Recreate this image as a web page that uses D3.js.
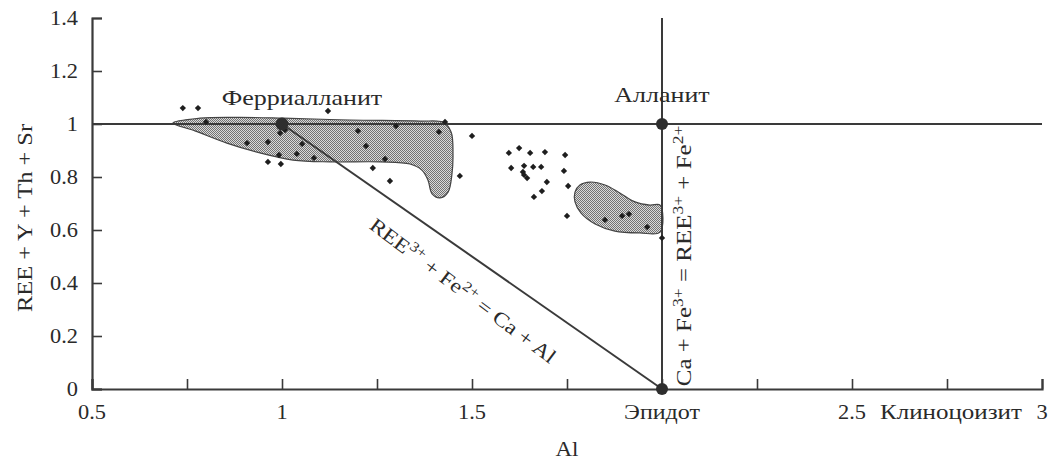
<!DOCTYPE html>
<html><head><meta charset="utf-8">
<script src="https://cdn.jsdelivr.net/npm/d3@7"></script>
<style>body{margin:0;background:#fff}svg{display:block}text{font-family:"Liberation Serif","Times New Roman",serif;fill:#2a2a2a}</style>
</head><body><svg id="c" width="1054" height="465"></svg>
<script>
// ---- data ----
const xTicks = [0.5,0.75,1,1.25,1.5,1.75,2,2.25,2.5,2.75,3];
const xLabelValues = [0.5,1,1.5,2,2.5,3];
const xLabelTexts = ["0.5","1","1.5","Эпидот","2.5","3"];
const extraXLabel = {x:2.75, text:"Клиноцоизит"};
const yTicks = [0,0.2,0.4,0.6,0.8,1,1.2,1.4];
const yTickLabels = ["0","0.2","0.4","0.6","0.8","1","1.2","1.4"];
const endMembers = [
  {name:"Ферриалланит", x:1, y:1},
  {name:"Алланит", x:2, y:1},
  {name:"Эпидот", x:2, y:0}
];
const regionA = [[0.713,1.004],[0.784,1.022],[0.889,1.025],[1.003,1.022],[1.179,1.015],[1.363,1.011],[1.424,1.006],[1.445,0.97],[1.45,0.883],[1.447,0.808],[1.437,0.743],[1.416,0.721],[1.395,0.736],[1.384,0.789],[1.368,0.826],[1.337,0.849],[1.258,0.857],[1.126,0.857],[1.029,0.864],[0.942,0.891],[0.855,0.928],[0.771,0.974]];
const regionB = [[1.771,0.743],[1.784,0.77],[1.811,0.781],[1.85,0.77],[1.889,0.74],[1.929,0.706],[1.968,0.694],[1.995,0.694],[1.995,0.592],[1.942,0.589],[1.876,0.596],[1.824,0.623],[1.787,0.664],[1.771,0.706]];
const pointsX = [0.739,0.779,0.800,1.121,1.429,1.300,1.200,1.413,1.500,0.995,1.008,0.908,0.963,1.053,1.221,0.992,1.039,1.084,1.271,0.963,0.997,1.239,1.468,1.284,
  1.597,1.624,1.653,1.692,1.745,1.603,1.637,1.661,1.682,1.742,1.634,1.637,1.645,1.697,1.753,1.684,1.663,1.750,1.850,1.895,1.913,1.961,2.000];
const pointsY = [1.060,1.060,1.008,1.049,1.008,0.992,0.974,0.970,0.955,0.966,0.977,0.928,0.932,0.925,0.917,0.883,0.887,0.872,0.868,0.857,0.849,0.834,0.804,0.785,
  0.891,0.909,0.891,0.894,0.883,0.834,0.842,0.838,0.838,0.823,0.819,0.808,0.796,0.781,0.766,0.747,0.725,0.653,0.638,0.653,0.660,0.611,0.570];

// ---- chart ----
const svg = d3.select("#c");
const x = d3.scaleLinear().domain([0.5,3]).range([92,1042]);
const y = d3.scaleLinear().domain([0,1.4]).range([389,18]);
const ink = "#3a3a3a";

// text helper: horizontally widened serif text (the source uses a wide Times-like face)
function label(px, py, parts, o={}){
  const fs=o.fs||20, sx=o.sx||1.25, rot=o.rot||0, anchor=o.anchor||"middle";
  const g = svg.append("g").attr("transform",`translate(${px},${py}) rotate(${rot}) scale(${sx},1)`);
  const t = g.append("text").attr("text-anchor",anchor).attr("font-size",fs);
  if(typeof parts==="string"){ t.text(parts); return t; }
  parts.forEach(p=>{
    if(p[1]) t.append("tspan").attr("dy",-0.4*fs).attr("font-size",fs*0.7).text(p[0]);
    else t.append("tspan").attr("dy",p[2]?0.4*fs:0).text(p[0]);
  });
  return t;
}

const defs = svg.append("defs");
const pat = defs.append("pattern").attr("id","stip").attr("width",2).attr("height",2).attr("patternUnits","userSpaceOnUse");
pat.append("rect").attr("width",2).attr("height",2).attr("fill","#dadada");
pat.append("rect").attr("width",1).attr("height",1).attr("fill","#737373");
pat.append("rect").attr("x",1).attr("y",1).attr("width",1).attr("height",1).attr("fill","#737373");

const area = d3.line().x(d=>x(d[0])).y(d=>y(d[1])).curve(d3.curveCatmullRomClosed.alpha(0.5));
[regionA, regionB].forEach(r=>{
  svg.append("path").attr("d",area(r)).attr("fill","url(#stip)").attr("stroke","#444").attr("stroke-width",1.2);
});

// reference lines
svg.append("line").attr("x1",x(0.5)).attr("x2",x(3)).attr("y1",y(1)).attr("y2",y(1)).attr("stroke",ink).attr("stroke-width",2);
svg.append("line").attr("x1",x(2)).attr("x2",x(2)).attr("y1",y(0)).attr("y2",y(1.4)).attr("stroke",ink).attr("stroke-width",2);
svg.append("line").attr("x1",x(1)).attr("x2",x(2)).attr("y1",y(1)).attr("y2",y(0)).attr("stroke",ink).attr("stroke-width",2);

// axes (ticks only; labels drawn below)
const gx = svg.append("g").attr("transform",`translate(0,${y(0)})`)
  .call(d3.axisBottom(x).tickValues(xTicks).tickSize(-10).tickFormat(""));
const gy = svg.append("g").attr("transform",`translate(${x(0.5)},0)`)
  .call(d3.axisLeft(y).tickValues(yTicks).tickSize(-10).tickFormat(""));
[gx,gy].forEach(g=>{
  g.selectAll("path.domain").attr("stroke",ink).attr("stroke-width",2.2);
  g.selectAll(".tick line").attr("stroke",ink).attr("stroke-width",1.6);
});

// tick labels
xLabelValues.forEach((v,i)=>label(x(v), 419, xLabelTexts[i], {sx: i===3?1.2:1.12}));
label(x(extraXLabel.x)+4, 419, extraXLabel.text, {sx:1.25});
yTicks.forEach((v,i)=>label(78, y(v)+7, yTickLabels[i], {anchor:"end", sx:1.12}));

// axis titles
label(x(1.75), 456, "Al", {sx:1.15});
label(32, 218, "REE + Y + Th + Sr", {rot:-90, sx:1.22});

// scatter points
const pts = pointsX.map((v,i)=>[v,pointsY[i]]);
svg.append("g").selectAll("path").data(pts).join("path")
  .attr("d",d3.symbol(d3.symbolSquare,20))
  .attr("transform",d=>`translate(${x(d[0])},${y(d[1])}) rotate(45)`)
  .attr("fill","#1e1e1e");

// end-member markers
svg.append("g").selectAll("circle").data(endMembers).join("circle")
  .attr("cx",d=>x(d.x)).attr("cy",d=>y(d.y)).attr("r",d=>d.x===1?6.5:6).attr("fill","#2e2e2e");
label(x(1)+20, 105, endMembers[0].name, {sx:1.3});
label(x(2), 102, endMembers[1].name, {sx:1.3});

// line labels
const ang = Math.atan2(y(0)-y(1), x(2)-x(1))*180/Math.PI;
label(459, 296, [["REE"],["3+",1],[" + Fe",0,1],["2+",1],[" = Ca + Al",0,1]], {rot:ang+2, sx:1.18});
label(691, 256, [["Ca + Fe"],["3+",1],[" = REE",0,1],["3+",1],[" + Fe",0,1],["2+",1]], {rot:-90, sx:1.25});
</script></body></html>
